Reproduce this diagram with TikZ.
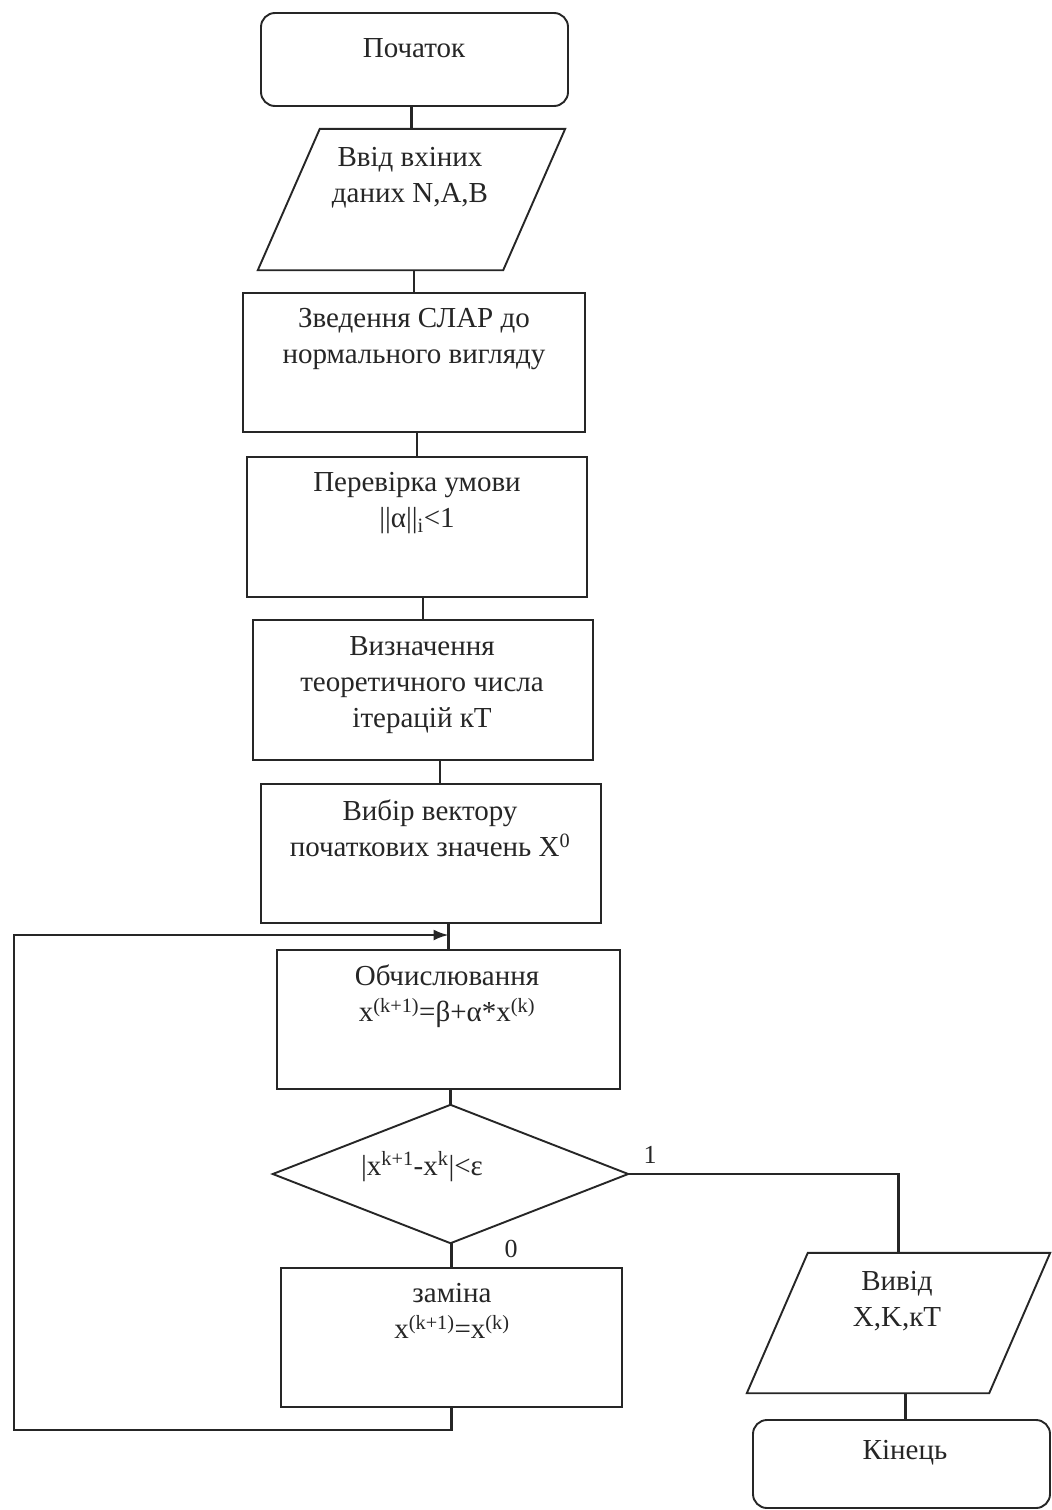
\documentclass[tikz,border=0pt]{standalone}
\usepackage{fontspec}
\setmainfont{Liberation Serif}
\usetikzlibrary{calc,arrows.meta}
\definecolor{ink}{gray}{0.15}
\begin{document}
\begin{tikzpicture}[x=1pt,y=-1pt,
  proc/.style={draw=ink, line width=1.9pt, rectangle, inner sep=0pt},
  term/.style={proc, rounded corners=14pt},
  frame/.style={rectangle, inner sep=0pt, draw=none},
  outline/.style={draw=ink, line width=1.9pt, line join=miter},
  wire/.style={draw=ink, line width=2.2pt},
  txt/.style={font=\fontsize{29}{36}\selectfont, text=ink, align=center, inner sep=0pt},
  tag/.style={font=\fontsize{26}{30}\selectfont, text=ink, inner sep=0pt}
]
\useasboundingbox[fill=white] (0,0) rectangle (1052,1510);

% blocks
\node[term, minimum width=307pt, minimum height=93pt] (start) at (414.5,59.5) {};
\node[frame, minimum width=307pt, minimum height=141pt] (input) at (411.5,199.5) {};
\draw[outline] ($(input.north west)+(62,0)$) -- (input.north east)
  -- ($(input.south east)-(62,0)$) -- (input.south west) -- cycle;
\node[proc, minimum width=342pt, minimum height=139pt] (reduce) at (414,362.5) {};
\node[proc, minimum width=340pt, minimum height=140pt] (check) at (417,527) {};
\node[proc, minimum width=340pt, minimum height=140pt] (iters) at (423,690) {};
\node[proc, minimum width=340pt, minimum height=139pt] (init) at (431,853.5) {};
\node[proc, minimum width=343pt, minimum height=139pt] (calc) at (448.5,1019.5) {};
\node[frame, minimum width=355pt, minimum height=138pt] (test) at (450.5,1174) {};
\draw[outline] (test.north) -- (test.east) -- (test.south) -- (test.west) -- cycle;
\node[proc, minimum width=341pt, minimum height=139pt] (swap) at (451.5,1337.5) {};
\node[frame, minimum width=303pt, minimum height=140pt] (output) at (898.5,1323) {};
\draw[outline] ($(output.north west)+(61,0)$) -- (output.north east)
  -- ($(output.south east)-(61,0)$) -- (output.south west) -- cycle;
\node[term, minimum width=297pt, minimum height=88pt] (end) at (901.5,1464) {};

% texts
\node[txt, anchor=base] (startT) at (414,57) {Початок};
\node[txt, anchor=north] (inputT) at (410,147) {Ввід вхіних\\даних N,A,B};
\node[txt, anchor=north] (reduceT) at (414,308) {Зведення СЛАР до\\нормального вигляду};
\node[txt, anchor=north] (checkT) at (417,472) {Перевірка умови\\||α||\textsubscript{i}<1};
\node[txt, anchor=north] (itersT) at (422,636) {Визначення\\теоретичного числа\\ітерацій кТ};
\node[txt, anchor=north] (initT) at (430,800) {Вибір вектору\\початкових значень X\textsuperscript{0}};
\node[txt, anchor=north] (calcT) at (447,965) {Обчислювання\\x\textsuperscript{(k+1)}=β+α*x\textsuperscript{(k)}};
\node[txt, anchor=base] (testT) at (422,1175) {|x\textsuperscript{k+1}-x\textsuperscript{k}|<ε};
\node[txt, anchor=north] (swapT) at (452,1283) {заміна\\x\textsuperscript{(k+1)}=x\textsuperscript{(k)}};
\node[txt, anchor=north] (outputT) at (897,1271) {Вивід\\X,K,кТ};
\node[txt, anchor=base] (endT) at (905,1459) {Кінець};

% branch labels
\node[tag] (yes) at (650,1155) {1};
\node[tag] (no) at (511,1249) {0};

% connectors
\coordinate (loopB) at (14,1430);
\coordinate (loopT) at (14,935);
\draw[wire] (input.north) -- (input.north |- start.south);
\draw[wire] (reduce.north) -- (reduce.north |- input.south);
\draw[wire] (check.north) -- (check.north |- reduce.south);
\draw[wire] (iters.north) -- (iters.north |- check.south);
\draw[wire] ([xshift=9pt]init.north) -- ([xshift=9pt]init.north |- iters.south);
\draw[wire] (calc.north) -- (calc.north |- init.south);
\draw[wire] (test.north) -- (test.north |- calc.south);
\draw[wire] (swap.north) -- (swap.north |- test.south);
\draw[wire] (test.east) -| (output.north);
\draw[wire] ([xshift=7pt]output.south) -- ([xshift=7pt]output.south |- end.north);
\draw[wire, -{Latex[length=15pt,width=11pt]}]
  (swap.south) -- (swap.south |- loopB) -- (loopB) -- (loopT) -- (calc.north |- loopT);
\end{tikzpicture}
\end{document}
